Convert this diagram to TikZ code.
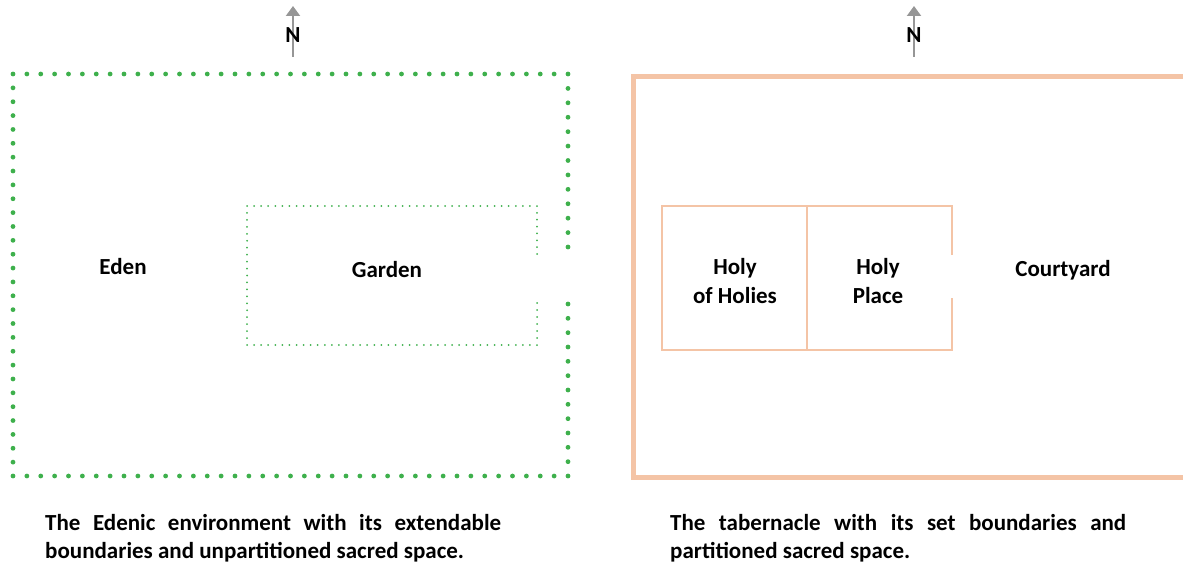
\documentclass[tikz,border=0pt]{standalone}
\usepackage{fontspec}
\setmainfont{Carlito}
\usetikzlibrary{arrows.meta}
\definecolor{edengreen}{RGB}{62,176,76}
\definecolor{peach}{RGB}{244,196,166}
\definecolor{arrowgray}{RGB}{150,150,150}
\hyphenpenalty=10000
\exhyphenpenalty=10000
\begin{document}
\begin{tikzpicture}[x=1pt,y=-1pt,
  bigdot/.style={fill=edengreen},
  smalldot/.style={fill=edengreen},
  lbl/.style={font=\bfseries\fontsize{23}{29}\selectfont, align=center, inner sep=0},
  caption/.style={font=\bfseries\fontsize{23}{28}\selectfont, text width=456pt, align=justify, inner sep=0, anchor=north west},
  northarrow/.style={draw=arrowgray, line width=2pt, -{Triangle[width=14pt,length=10pt]}},
  wall/.style={draw=peach, line width=5pt},
  partition/.style={draw=peach, line width=2pt}]
\useasboundingbox (0,0) rectangle (1183,567);
\clip (0,0) rectangle (1183,567);

% ---- Left: Eden ----
% outer dotted boundary
\foreach \i in {0,...,40} {
  \fill[bigdot] ({13+\i*13.875},74) circle (2.4);
  \fill[bigdot] ({13+\i*13.875},476) circle (2.4);
}
\foreach \i in {1,...,28} {
  \fill[bigdot] (13,{74+\i*13.862}) circle (2.4);
}
\foreach \i in {1,...,12} {
  \fill[bigdot] (568,{74+\i*14.417}) circle (2.4);
}
\foreach \i in {0,...,11} {
  \fill[bigdot] (568,{304+\i*14.333}) circle (2.4);
}
% garden dotted boundary
\foreach \i in {0,...,41} {
  \fill[smalldot] ({247+\i*7.073},206) circle (1);
  \fill[smalldot] ({247+\i*7.073},345) circle (1);
}
\foreach \i in {1,...,19} {
  \fill[smalldot] (247,{206+\i*6.95}) circle (1);
}
\foreach \i in {1,...,7} {
  \fill[smalldot] (537,{206+\i*6.857}) circle (1);
}
\foreach \i in {0,...,5} {
  \fill[smalldot] (537,{303+\i*7}) circle (1);
}

\coordinate (nAbot) at (293,57);
\coordinate (nAtop) at (293,6);
\draw[northarrow] (nAbot) -- (nAtop);
\node[lbl] (nA) at (293,35) {N};

\node[lbl] (eden) at (123,267) {Eden};
\node[lbl] (garden) at (387,270) {Garden};

\node[caption] (capA) at (45,514) {The Edenic environment with its extendable boundaries and unpartitioned sacred space.};

% ---- Right: Tabernacle ----
\draw[wall] (1195,77) -- (633,77) -- (633,477) -- (1195,477);
\draw[partition] (952,255) -- (952,206) -- (662,206) -- (662,350) -- (952,350) -- (952,298);
\draw[partition] (807,206) -- (807,350);

\coordinate (nBbot) at (914,57);
\coordinate (nBtop) at (914,6);
\draw[northarrow] (nBbot) -- (nBtop);
\node[lbl] (nB) at (914,35) {N};

\node[lbl] (hoh) at (735,281) {Holy\\of Holies};
\node[lbl] (hp) at (878,281) {Holy\\Place};
\node[lbl] (court) at (1063,270) {Courtyard};

\node[caption] (capB) at (670,514) {The tabernacle with its set boundaries and partitioned sacred space.};
\end{tikzpicture}
\end{document}
